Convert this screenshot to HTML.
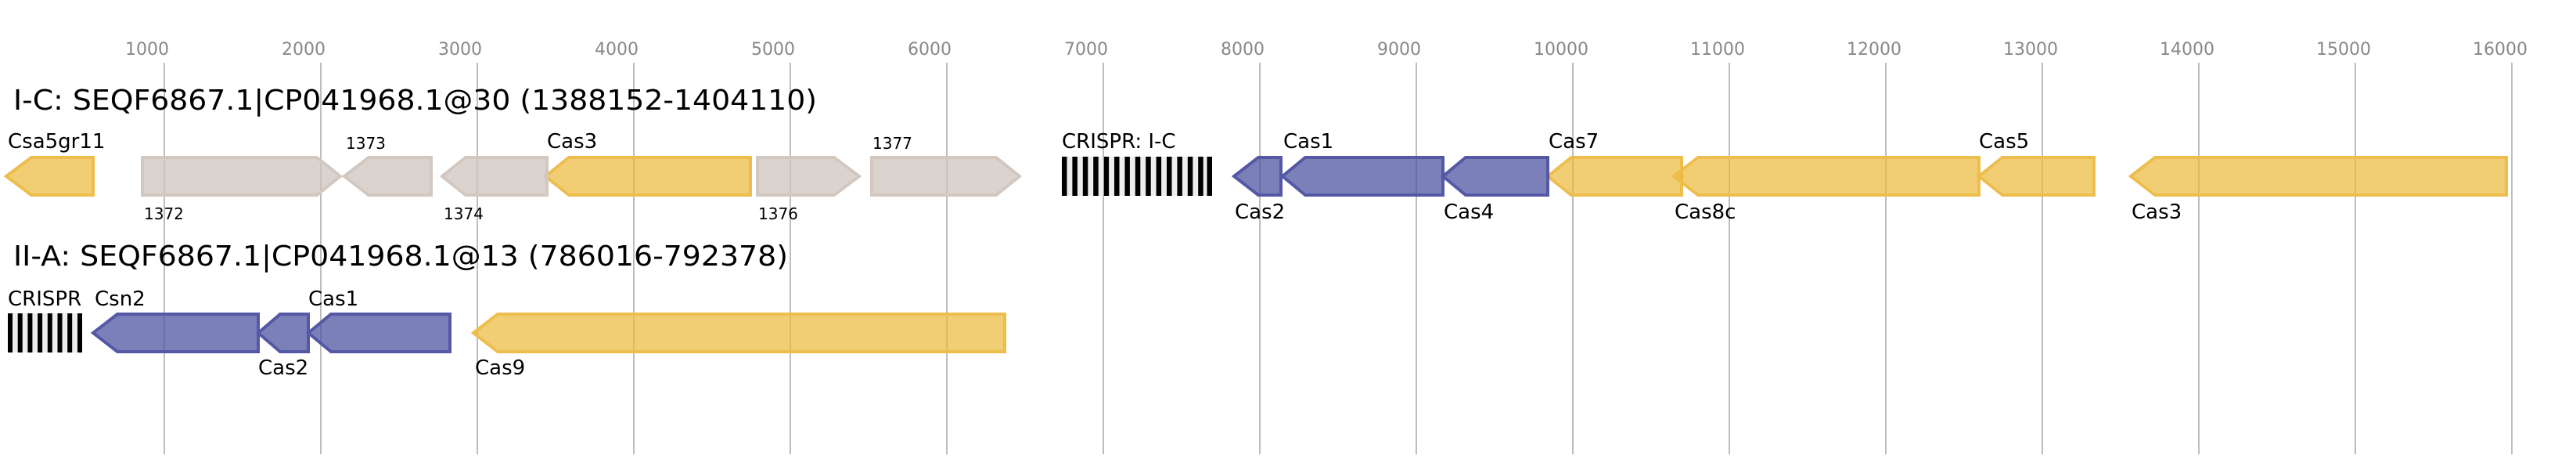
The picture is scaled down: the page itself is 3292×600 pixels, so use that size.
<!DOCTYPE html>
<html><head><meta charset="utf-8"><style>html,body{margin:0;padding:0;background:#fff}svg{display:block}</style></head><body>
<svg width="3292" height="600" xmlns="http://www.w3.org/2000/svg" font-family="'DejaVu Sans','Liberation Sans',sans-serif">
<g stroke="#bdbdbd" stroke-width="2">
<line x1="210" y1="80" x2="210" y2="580"/><line x1="410" y1="80" x2="410" y2="580"/><line x1="610" y1="80" x2="610" y2="580"/><line x1="810" y1="80" x2="810" y2="580"/><line x1="1010" y1="80" x2="1010" y2="580"/><line x1="1210" y1="80" x2="1210" y2="580"/><line x1="1410" y1="80" x2="1410" y2="580"/><line x1="1610" y1="80" x2="1610" y2="580"/><line x1="1810" y1="80" x2="1810" y2="580"/><line x1="2010" y1="80" x2="2010" y2="580"/><line x1="2210" y1="80" x2="2210" y2="580"/><line x1="2410" y1="80" x2="2410" y2="580"/><line x1="2610" y1="80" x2="2610" y2="580"/><line x1="2810" y1="80" x2="2810" y2="580"/><line x1="3010" y1="80" x2="3010" y2="580"/><line x1="3210" y1="80" x2="3210" y2="580"/>
</g>
<g fill="#888" font-size="22" text-anchor="middle">
<text x="188" y="70">1000</text><text x="388" y="70">2000</text><text x="588" y="70">3000</text><text x="788" y="70">4000</text><text x="988" y="70">5000</text><text x="1188" y="70">6000</text><text x="1388" y="70">7000</text><text x="1588" y="70">8000</text><text x="1788" y="70">9000</text><text x="1995" y="70">10000</text><text x="2195" y="70">11000</text><text x="2395" y="70">12000</text><text x="2595" y="70">13000</text><text x="2795" y="70">14000</text><text x="2995" y="70">15000</text><text x="3195" y="70">16000</text>
</g>
<text x="17" y="140" font-size="36" textLength="1027" lengthAdjust="spacingAndGlyphs">I-C: SEQF6867.1|CP041968.1@30 (1388152-1404110)</text>
<text x="17" y="339" font-size="36" textLength="990" lengthAdjust="spacingAndGlyphs">II-A: SEQF6867.1|CP041968.1@13 (786016-792378)</text>
<g stroke-width="4">
<g fill="#ebb938" fill-opacity="0.7" stroke="#edbe4e">
<polygon points="8,225 40,201 119,201 119,249 40,249"/>
<polygon points="697,225 727,201 959,201 959,249 727,249"/>
<polygon points="1978,225 2008,201 2149,201 2149,249 2008,249"/>
<polygon points="2139,225 2170,201 2529,201 2529,249 2170,249"/>
<polygon points="2529,225 2559,201 2676,201 2676,249 2559,249"/>
<polygon points="2723,225 2754,201 3203,201 3203,249 2754,249"/>
<polygon points="605,425 636,401 1284,401 1284,449 636,449"/>
</g>
<g fill="#4a4f9e" fill-opacity="0.72" stroke="#5558a5">
<polygon points="1577,225 1608,201 1637,201 1637,249 1608,249"/>
<polygon points="1639,225 1668,201 1844,201 1844,249 1668,249"/>
<polygon points="1844,225 1873,201 1978,201 1978,249 1873,249"/>
<polygon points="119,425 150,401 330,401 330,449 150,449"/>
<polygon points="330,425 358,401 394,401 394,449 358,449"/>
<polygon points="394,425 423,401 575,401 575,449 423,449"/>
</g>
<g fill="#cfc4bc" fill-opacity="0.75" stroke="#d2c8c0">
<polygon points="182,201 405,201 435,225 405,249 182,249"/>
<polygon points="440,225 471,201 551,201 551,249 471,249"/>
<polygon points="565,225 595,201 699,201 699,249 595,249"/>
<polygon points="968,201 1066,201 1098,225 1066,249 968,249"/>
<polygon points="1114,201 1273,201 1303,225 1273,249 1114,249"/>
</g>
</g>
<rect x="1357" y="200" width="192" height="50" fill="#eee"/>
<g fill="#000">
<rect x="1357" y="200" width="6.5" height="50"/><rect x="1370.4" y="200" width="6.5" height="50"/><rect x="1383.8" y="200" width="6.5" height="50"/><rect x="1397.2" y="200" width="6.5" height="50"/><rect x="1410.6" y="200" width="6.5" height="50"/><rect x="1424" y="200" width="6.5" height="50"/><rect x="1437.4" y="200" width="6.5" height="50"/><rect x="1450.8" y="200" width="6.5" height="50"/><rect x="1464.2" y="200" width="6.5" height="50"/><rect x="1477.6" y="200" width="6.5" height="50"/><rect x="1491" y="200" width="6.5" height="50"/><rect x="1504.4" y="200" width="6.5" height="50"/><rect x="1517.8" y="200" width="6.5" height="50"/><rect x="1531.2" y="200" width="6.5" height="50"/><rect x="1542.5" y="200" width="6.5" height="50"/>
</g>
<rect x="10" y="400" width="95" height="50" fill="#eee"/>
<g fill="#000">
<rect x="10" y="400" width="6" height="50"/><rect x="22.7" y="400" width="6" height="50"/><rect x="35.4" y="400" width="6" height="50"/><rect x="48.1" y="400" width="6" height="50"/><rect x="60.8" y="400" width="6" height="50"/><rect x="73.5" y="400" width="6" height="50"/><rect x="86.2" y="400" width="6" height="50"/><rect x="99" y="400" width="6" height="50"/>
</g>
<g font-size="26" fill="#000">
<text x="10" y="189">Csa5gr11</text><text x="699" y="189">Cas3</text><text x="1357" y="189">CRISPR: I-C</text><text x="1640" y="189">Cas1</text><text x="1979" y="189">Cas7</text><text x="2529" y="189">Cas5</text>
<text x="1578" y="279">Cas2</text><text x="1845" y="279">Cas4</text><text x="2140" y="279">Cas8c</text><text x="2724" y="279">Cas3</text>
<text x="10" y="390">CRISPR</text><text x="121" y="390">Csn2</text><text x="394" y="390">Cas1</text>
<text x="330" y="478">Cas2</text><text x="607" y="478">Cas9</text>
</g>
<g font-size="20" fill="#000">
<text x="442" y="190">1373</text><text x="1115" y="190">1377</text>
<text x="184" y="280">1372</text><text x="567" y="280">1374</text><text x="969" y="280">1376</text>
</g>
</svg>
</body></html>
